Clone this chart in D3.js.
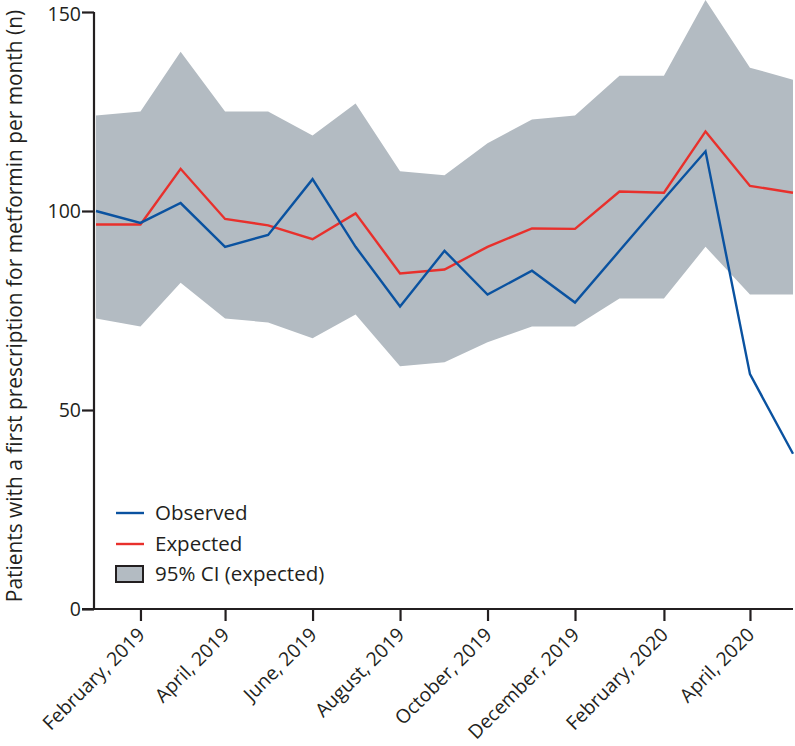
<!DOCTYPE html>
<html>
<head>
<meta charset="utf-8">
<script src="https://cdn.jsdelivr.net/npm/d3@7"></script>
<style>
  html, body { margin: 0; padding: 0; background: #fff; }
  svg { display: block; }
  text { font-family: "Open Sans", "Noto Sans", sans-serif; fill: #231f20; }
</style>
</head>
<body>
<svg id="chart" width="795" height="746"></svg>
<script>
// ---- Data ----
const months = ["2019-01","2019-02","2019-03","2019-04","2019-05","2019-06","2019-07","2019-08","2019-09","2019-10","2019-11","2019-12","2020-01","2020-02","2020-03","2020-04","2020-05"];
const observed = [100, 97, 102, 91, 94, 108, 91, 76, 90, 79, 85, 77, 90, 103, 115, 59, 39];
const expected = [96.6, 96.6, 110.6, 98, 96.4, 92.9, 99.4, 84.3, 85.3, 91, 95.6, 95.5, 104.9, 104.6, 120, 106.3, 104.6];
const ciLower = [73, 71, 82, 73, 72, 68, 74, 61, 62, 67, 71, 71, 78, 78, 91, 79, 79];
const ciUpper = [124, 125, 140, 125, 125, 119, 127, 110, 109, 117, 123, 124, 134, 134, 153, 136, 133];
const yTicks = [0, 50, 100, 150];
const xTickMonths = ["2019-02","2019-04","2019-06","2019-08","2019-10","2019-12","2020-02","2020-04"];
const legendItems = ["Observed", "Expected", "95% CI (expected)"];
const yLabel = "Patients with a first prescription for metformin per month (n)";

const parse = d3.timeParse("%Y-%m");
const dates = months.map(parse);
const rows = dates.map((d, i) => ({ d, obs: observed[i], exp: expected[i], lo: ciLower[i], hi: ciUpper[i] }));

const colBlue = "#0a52a0", colRed = "#e8302c", colBand = "#b3bbc2", colAxis = "#231f20";

const svg = d3.select("#chart");
const x = d3.scaleTime().domain([dates[0], dates[dates.length - 1]]).range([96, 793]);
const y = d3.scaleLinear().domain([0, 150]).range([609, 12]);

// CI band
svg.append("path").datum(rows)
  .attr("fill", colBand)
  .attr("d", d3.area().x(r => x(r.d)).y0(r => y(r.lo)).y1(r => y(r.hi)));

// Lines
const line = key => d3.line().x(r => x(r.d)).y(r => y(r[key]));
svg.append("path").datum(rows).attr("fill", "none").attr("stroke", colRed)
  .attr("stroke-width", 2.4).attr("stroke-linejoin", "miter").attr("d", line("exp"));
svg.append("path").datum(rows).attr("fill", "none").attr("stroke", colBlue)
  .attr("stroke-width", 2.4).attr("stroke-linejoin", "miter").attr("d", line("obs"));

// Y axis
const yAxis = svg.append("g").attr("transform", "translate(94,0)")
  .call(d3.axisLeft(y).tickValues(yTicks).tickSize(12).tickSizeOuter(0).tickPadding(1));
yAxis.select(".domain").attr("stroke", colAxis).attr("stroke-width", 2.2).attr("d", `M0,${y(0)+1}V${y(150)}`);
yAxis.selectAll(".tick line").attr("stroke", colAxis).attr("stroke-width", 2.2);
yAxis.selectAll(".tick text").attr("font-size", 19.5).attr("font-family", "Open Sans").attr("fill", colAxis)
  .attr("dy", d => d === 150 ? "0.46em" : "0.32em");

// X axis
const xAxis = svg.append("g").attr("transform", `translate(0,${y(0)})`)
  .call(d3.axisBottom(x).tickValues(xTickMonths.map(parse)).tickFormat(d3.timeFormat("%B, %Y")).tickSize(12).tickSizeOuter(0));
xAxis.select(".domain").attr("stroke", colAxis).attr("stroke-width", 2.2).attr("d", "M82,0H793");
xAxis.selectAll(".tick line").attr("stroke", colAxis).attr("stroke-width", 2.2);
xAxis.selectAll(".tick text")
  .attr("font-size", 19.3).attr("font-family", "Open Sans").attr("fill", colAxis)
  .attr("text-anchor", "end").attr("dy", null).attr("y", 0).attr("x", 0)
  .attr("transform", "translate(5,27) rotate(-45)");

// Y label
svg.append("text")
  .attr("transform", "translate(22,306) rotate(-90)")
  .attr("text-anchor", "middle")
  .attr("font-size", 20.9)
  .text(yLabel);

// Legend
const lg = svg.append("g");
const rowsY = [513, 544, 574];
lg.append("line").attr("x1", 116).attr("x2", 144).attr("y1", rowsY[0]).attr("y2", rowsY[0]).attr("stroke", colBlue).attr("stroke-width", 2.4);
lg.append("line").attr("x1", 116).attr("x2", 144).attr("y1", rowsY[1]).attr("y2", rowsY[1]).attr("stroke", colRed).attr("stroke-width", 2.4);
lg.append("rect").attr("x", 116).attr("y", rowsY[2] - 8).attr("width", 27).attr("height", 16)
  .attr("fill", colBand).attr("stroke", colAxis).attr("stroke-width", 2);
legendItems.forEach((t, i) => {
  lg.append("text").attr("x", 155).attr("y", rowsY[i]).attr("dy", "0.35em").attr("font-size", 20.5).text(t);
});
</script>
</body>
</html>
